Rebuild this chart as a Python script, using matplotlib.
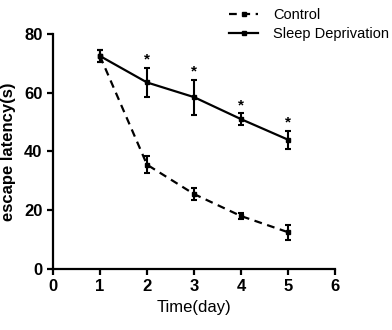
import numpy as np
import matplotlib
matplotlib.use("Agg")
from matplotlib import pyplot as plt
from matplotlib.lines import Line2D

plt.rcParams['font.family'] = ['Liberation Sans', 'DejaVu Sans']

days = [1, 2, 3, 4, 5]
control = [72.5, 35.5, 25.5, 18.0, 12.5]
control_err = [2.0, 3.0, 2.0, 1.0, 2.5]
sleep_dep = [72.5, 63.5, 58.5, 51.0, 44.0]
sleep_dep_err = [2.0, 5.0, 6.0, 2.0, 3.0]
star_days = [2, 3, 4, 5]

fig = plt.figure(figsize=(3.92, 3.30), dpi=100)
ax = fig.add_axes([0.135, 0.185, 0.72, 0.712])

dash = (0, (3.5, 2.5))
ax.errorbar(days, control, yerr=control_err, color='black', linestyle=dash,
            linewidth=1.6, marker='s', markersize=3.5, capsize=2.5, elinewidth=1.5,
            capthick=1.5)
ax.errorbar(days, sleep_dep, yerr=sleep_dep_err, color='black', linestyle='-',
            linewidth=1.6, marker='s', markersize=3.5, capsize=2.5, elinewidth=1.5,
            capthick=1.5)

# sterretjes boven de SD punten
for d in star_days:
    i = days.index(d)
    ax.text(d, sleep_dep[i] + sleep_dep_err[i] + 2.8, '*', ha='center', va='center',
            fontsize=11, fontweight='bold')

ax.set_xlim(0, 6)
ax.set_ylim(0, 80)
ax.set_xticks(range(0, 7))
ax.set_yticks([0, 20, 40, 60, 80])
ax.spines['top'].set_visible(False)
ax.spines['right'].set_visible(False)
ax.spines['left'].set_linewidth(1.6)
ax.spines['bottom'].set_linewidth(1.6)
ax.tick_params(direction='out', width=1.6, length=4, labelsize=12)
for lab in ax.get_xticklabels() + ax.get_yticklabels():
    lab.set_fontweight('bold')

ax.set_xlabel('Time(day)', fontsize=12)
ax.set_ylabel('escape latency(s)', fontsize=12, fontweight='bold', labelpad=6)

handles = [
    Line2D([], [], color='black', linestyle=dash, linewidth=1.6, marker='s', markersize=3.5),
    Line2D([], [], color='black', linestyle='-', linewidth=1.6, marker='s', markersize=3.5),
]
ax.legend(handles, ['Control', 'Sleep Deprivation'], loc='upper left',
          bbox_to_anchor=(0.578, 1.165), frameon=False, fontsize=10.5,
          handlelength=2.0, handletextpad=1.0, labelspacing=0.3)

fig.savefig('out.png', dpi=100)
